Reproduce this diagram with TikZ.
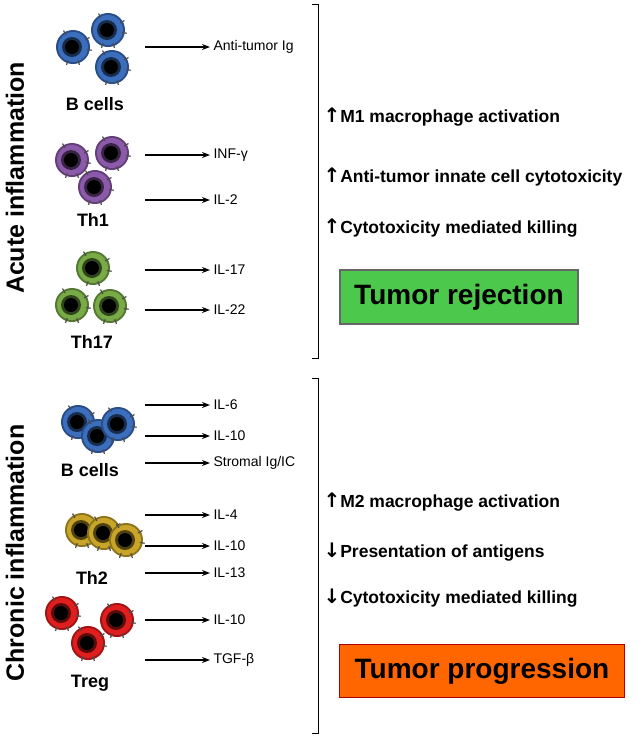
\documentclass[tikz,border=0pt]{standalone}
\usepackage{fontspec}
\setmainfont{Liberation Sans}
\newfontfamily\arrf{DejaVu Sans}
\usetikzlibrary{arrows.meta}
\begin{document}
\begin{tikzpicture}[x=1pt,y=-1pt,
 lab/.style={font=\bfseries\fontsize{18}{20}\selectfont},
 sm/.style={font=\fontsize{14}{16}\selectfont,anchor=west},
 big/.style={font=\bfseries\fontsize{17.5}{20}\selectfont,anchor=west},
 side/.style={font=\bfseries\fontsize{25}{28}\selectfont,rotate=90},
 arr/.style={-{Stealth[length=8pt,width=6pt]},line width=1.4pt},
 br/.style={thick},
 box/.style={draw=#1,line width=1.5pt,font=\bfseries\fontsize{28}{30}\selectfont}]
\useasboundingbox (0,0) rectangle (644,737);
\newcommand{\upa}{{\arrf\bfseries\fontsize{20}{20}\selectfont ↑}}
\newcommand{\dna}{{\arrf\bfseries\fontsize{20}{20}\selectfont ↓}}
\definecolor{bc}{RGB}{60,110,190}\definecolor{tha}{RGB}{140,90,170}
\definecolor{thb}{RGB}{120,170,70}\definecolor{thc}{RGB}{200,165,40}
\definecolor{trc}{RGB}{225,30,30}
\tikzset{pics/cell/.style={code={
 \fill[#1!70!black] (0,0) circle (17);
 \fill[#1] (0,0) circle (15);
 \fill[#1!40!black] (-1,0) circle (10);
 \fill[black] (-1,0) circle (7);
 \foreach \a in {70,110,-30,-120,10}{\draw[line width=1.2pt,black!70,fill=white] (\a:14) -- (\a:19);}
}}}
\foreach \p in {(73,47),(108,30),(112,67)} \pic at \p {cell=bc};
\node[lab] (b1) at (95,104) {B cells};
\foreach \p in {(72,160),(112,153),(95,187)} \pic at \p {cell=tha};
\node[lab] (t1) at (93,220) {Th1};
\foreach \p in {(93,268),(72,305),(110,306)} \pic at \p {cell=thb};
\node[lab] (t17) at (92,342) {Th17};
\foreach \p in {(78,422),(98,436),(118,424)} \pic at \p {cell=bc};
\node[lab] (b2) at (90,470) {B cells};
\foreach \p in {(82,530),(104,533),(126,540)} \pic at \p {cell=thc};
\node[lab] (t2) at (92,578) {Th2};
\foreach \p in {(62,613),(88,643),(117,620)} \pic at \p {cell=trc};
\node[lab] (tr) at (90,683) {Treg};
\foreach \y/\t/\n in {47/{Anti-tumor Ig}/a1,155/{INF-γ}/a2,200/{IL-2}/a3,270/{IL-17}/a4,310/{IL-22}/a5,405/{IL-6}/a6,436/{IL-10}/a7,463/{Stromal Ig/IC}/a8,515/{IL-4}/a9,546/{IL-10}/a10,573/{IL-13}/a11,620/{IL-10}/a12,660/{TGF-β}/a13}{
 \coordinate (s\n) at (145,\y);
 \node[sm] (\n) at (210,\y) {\t};
 \draw[arr] (s\n) -- (\n.west);}
\coordinate (k1) at (312,4);\coordinate (k2) at (318,4);\coordinate (k3) at (318,358);\coordinate (k4) at (312,358);
\draw[br] (k1) -- (k2) -- (k3) -- (k4);
\coordinate (m1) at (312,378);\coordinate (m2) at (318,378);\coordinate (m3) at (318,733);\coordinate (m4) at (312,733);
\draw[br] (m1) -- (m2) -- (m3) -- (m4);
\node[side] (ac) at (15,178) {Acute inflammation};
\node[side] (ch) at (15,553) {Chronic inflammation};
\node[big] (e1) at (320,117) {\upa M1 macrophage activation};
\node[big] (e2) at (320,177) {\upa Anti-tumor innate cell cytotoxicity};
\node[big] (e3) at (320,228) {\upa Cytotoxicity mediated killing};
\node[big] (e4) at (320,502) {\upa M2 macrophage activation};
\node[big] (e5) at (320,552) {\dna Presentation of antigens};
\node[big] (e6) at (320,598) {\dna Cytotoxicity mediated killing};
\node[box=black!60,fill=green!70!black!70!white,minimum width=238,minimum height=54] (g) at (459,297) {Tumor rejection};
\node[box=red!70!black,fill=orange!80!red,minimum width=285,minimum height=53] (o) at (482,671) {Tumor progression};
\end{tikzpicture}
\end{document}
